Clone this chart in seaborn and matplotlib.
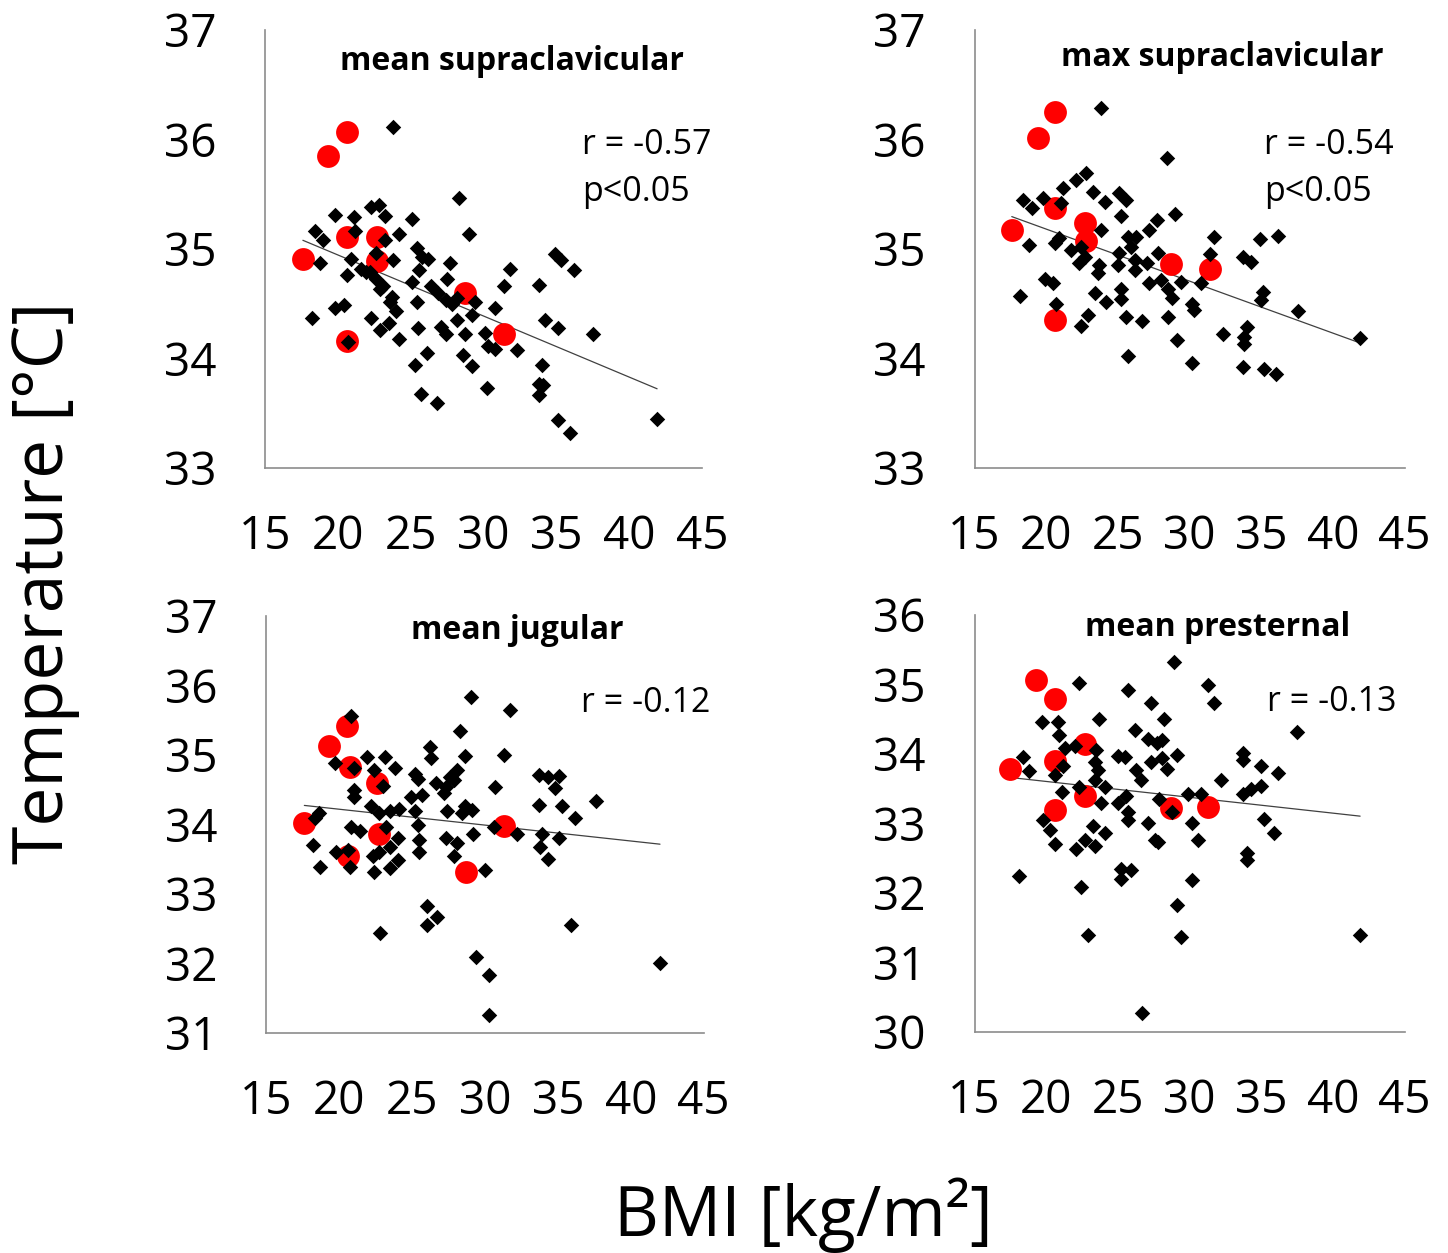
import numpy as np
import matplotlib
matplotlib.use("Agg")
import matplotlib.pyplot as plt
import seaborn as sns

# Values (BMI, temperature in °C)

# mean supraclavicular
sup_mean_red = [(20.6, 36.07), (19.35, 35.85), (20.6, 35.11), (22.7, 35.11), (17.6, 34.91),
                (22.7, 34.89), (28.7, 34.60), (31.4, 34.22), (20.6, 34.16)]
sup_mean_black = [(23.8, 36.11), (28.3, 35.47), (29.0, 35.14), (19.8, 35.31), (21.1, 35.29),
                  (22.3, 35.38), (22.8, 35.40), (23.2, 35.30), (25.1, 35.27), (18.4, 35.16),
                  (19.0, 35.08), (21.2, 35.16), (24.2, 35.14), (23.2, 35.08), (18.8, 34.87),
                  (20.9, 34.91), (20.6, 34.76), (21.6, 34.82), (22.6, 34.96), (22.2, 34.79),
                  (22.6, 34.73), (23.8, 34.90), (25.1, 34.70), (25.4, 35.01), (25.8, 34.93),
                  (26.2, 34.91), (25.6, 34.81), (27.7, 34.87), (27.5, 34.73), (26.4, 34.66),
                  (26.9, 34.60), (27.4, 34.53), (27.8, 34.50), (28.2, 34.55), (29.4, 34.52),
                  (30.8, 34.46), (29.2, 34.40), (31.4, 34.66), (31.8, 34.82), (33.8, 34.67),
                  (34.9, 34.95), (35.3, 34.90), (36.2, 34.81), (18.2, 34.37), (19.8, 34.46),
                  (20.4, 34.49), (22.3, 34.37), (22.9, 34.26), (23.5, 34.32), (24.0, 34.43),
                  (24.2, 34.18), (23.7, 34.56), (22.9, 34.63), (25.5, 34.28), (25.4, 34.52),
                  (27.1, 34.29), (28.2, 34.35), (28.7, 34.22), (27.4, 34.22), (30.1, 34.23),
                  (30.3, 34.11), (30.8, 34.09), (32.3, 34.08), (28.6, 34.03), (29.2, 33.93),
                  (25.3, 33.94), (26.1, 34.05), (30.2, 33.73), (34.0, 33.94), (33.8, 33.77),
                  (34.1, 33.76), (33.8, 33.67), (25.7, 33.68), (26.8, 33.59), (34.2, 34.35),
                  (35.1, 34.28), (37.5, 34.22), (35.1, 33.44), (35.9, 33.32), (41.9, 33.45),
                  (23.1, 34.66), (23.6, 34.52), (21.9, 34.79), (20.7, 34.15)]

# max supraclavicular
sup_max_red = [(20.6, 36.25), (19.4, 36.01), (20.6, 35.37), (17.6, 35.17), (22.7, 35.24),
               (22.8, 35.07), (28.7, 34.86), (31.4, 34.82), (20.6, 34.35)]
sup_max_black = [(23.8, 36.29), (28.4, 35.83), (18.4, 35.45), (19.0, 35.37), (19.8, 35.47),
                 (21.2, 35.56), (21.0, 35.42), (22.1, 35.63), (22.8, 35.69), (23.3, 35.52),
                 (24.1, 35.43), (25.1, 35.51), (25.6, 35.45), (25.2, 35.30), (29.0, 35.32),
                 (27.7, 35.26), (27.2, 35.17), (25.7, 35.11), (26.3, 35.11), (23.8, 35.17),
                 (20.9, 35.10), (18.8, 35.04), (20.6, 35.05), (21.7, 34.99), (22.4, 35.02),
                 (22.7, 34.93), (22.3, 34.87), (23.7, 34.85), (23.6, 34.78), (25.1, 34.96),
                 (26.2, 34.90), (26.2, 34.81), (27.0, 34.87), (27.8, 34.96), (27.2, 34.69),
                 (28.0, 34.72), (28.5, 34.63), (29.4, 34.70), (30.8, 34.69), (31.4, 34.95),
                 (31.7, 35.11), (34.9, 35.09), (36.2, 35.12), (33.7, 34.93), (34.3, 34.88),
                 (35.1, 34.61), (35.0, 34.53), (37.6, 34.43), (41.9, 34.19), (19.9, 34.73),
                 (20.5, 34.69), (18.2, 34.57), (20.7, 34.50), (23.4, 34.60), (24.2, 34.52),
                 (25.2, 34.63), (25.2, 34.54), (25.6, 34.38), (26.7, 34.34), (22.9, 34.40),
                 (22.4, 34.30), (28.5, 34.38), (28.8, 34.55), (30.2, 34.50), (30.3, 34.44),
                 (29.1, 34.17), (32.3, 34.22), (34.0, 34.29), (33.8, 34.20), (33.8, 34.13),
                 (25.7, 34.02), (30.2, 33.96), (33.7, 33.92), (35.2, 33.90), (36.0, 33.86),
                 (25.0, 34.85), (25.9, 35.02)]

# mean jugular
jug_mean_red = [(20.5, 35.42), (19.3, 35.13), (20.7, 34.82), (22.6, 34.60), (17.6, 34.02),
                (22.7, 33.87), (20.6, 33.54), (28.7, 33.31), (31.3, 33.98)]
jug_mean_black = [(29.0, 35.83), (31.7, 35.64), (28.3, 35.35), (26.2, 35.12), (26.3, 34.95),
                  (28.6, 34.99), (31.3, 35.00), (20.8, 35.56), (19.7, 34.88), (21.9, 34.97),
                  (23.1, 34.97), (23.8, 34.81), (21.0, 34.81), (22.4, 34.78), (25.2, 34.73),
                  (25.4, 34.66), (26.6, 34.59), (27.3, 34.54), (27.6, 34.69), (28.1, 34.78),
                  (27.9, 34.64), (25.7, 34.42), (24.9, 34.40), (27.2, 34.45), (21.0, 34.50),
                  (21.0, 34.40), (23.0, 34.55), (30.7, 34.54), (33.7, 34.71), (34.3, 34.69),
                  (35.1, 34.70), (34.8, 34.52), (33.7, 34.28), (35.3, 34.26), (37.6, 34.34),
                  (36.2, 34.10), (18.6, 34.16), (18.3, 34.09), (22.2, 34.26), (22.7, 34.16),
                  (23.5, 34.19), (24.1, 34.22), (25.2, 34.19), (25.4, 33.99), (27.4, 34.19),
                  (28.6, 34.26), (29.1, 34.21), (28.4, 34.16), (30.6, 33.96), (32.2, 33.86),
                  (33.9, 33.87), (35.1, 33.80), (33.8, 33.68), (34.3, 33.50), (20.8, 33.97),
                  (21.4, 33.90), (23.2, 33.97), (24.0, 33.80), (23.5, 33.68), (27.3, 33.80),
                  (28.1, 33.74), (29.2, 33.86), (25.5, 33.77), (25.5, 33.61), (27.9, 33.54),
                  (18.2, 33.71), (19.8, 33.61), (20.6, 33.63), (18.7, 33.39), (20.7, 33.39),
                  (22.3, 33.54), (22.7, 33.61), (22.4, 33.31), (23.5, 33.37), (24.0, 33.49),
                  (30.0, 33.34), (26.0, 32.82), (26.7, 32.67), (26.0, 32.55), (22.8, 32.44),
                  (35.9, 32.55), (29.4, 32.10), (30.3, 31.83), (42.0, 32.00), (30.3, 31.26)]

# mean presternal
pre_mean_red = [(19.3, 35.07), (20.6, 34.79), (22.7, 34.15), (20.6, 33.90), (17.5, 33.79),
                (22.7, 33.40), (20.6, 33.19), (28.7, 33.22), (31.3, 33.24)]
pre_mean_black = [(28.9, 35.33), (22.3, 35.02), (25.7, 34.92), (31.3, 34.99), (31.7, 34.73),
                  (27.3, 34.74), (28.2, 34.51), (23.7, 34.50), (19.7, 34.46), (20.8, 34.46),
                  (20.9, 34.27), (26.2, 34.34), (37.5, 34.32), (27.1, 34.21), (27.7, 34.16),
                  (28.1, 34.20), (22.0, 34.11), (21.3, 34.08), (23.5, 34.06), (25.0, 33.97),
                  (25.5, 33.95), (27.3, 33.89), (28.1, 33.94), (29.1, 33.99), (28.4, 33.79),
                  (18.4, 33.95), (18.8, 33.75), (20.6, 33.70), (21.2, 33.83), (23.4, 33.88),
                  (23.6, 33.77), (26.3, 33.77), (26.6, 33.63), (32.2, 33.62), (33.7, 34.01),
                  (33.7, 33.92), (35.0, 33.83), (36.2, 33.73), (22.3, 33.53), (23.4, 33.63),
                  (24.1, 33.53), (23.8, 33.29), (21.1, 33.46), (25.0, 33.29), (25.6, 33.39),
                  (25.7, 33.17), (27.9, 33.35), (29.9, 33.42), (30.8, 33.43), (33.7, 33.42),
                  (34.3, 33.49), (35.0, 33.54), (28.8, 33.17), (30.2, 33.01), (27.1, 33.01),
                  (27.6, 32.76), (27.8, 32.74), (19.8, 33.05), (20.3, 32.90), (20.6, 32.70),
                  (22.1, 32.63), (22.7, 32.76), (23.3, 32.96), (24.1, 32.87), (23.4, 32.67),
                  (30.6, 32.76), (35.2, 33.07), (35.9, 32.87), (34.0, 32.57), (34.0, 32.47),
                  (18.1, 32.24), (22.4, 32.08), (25.2, 32.35), (25.9, 32.33), (25.2, 32.20),
                  (30.2, 32.19), (29.1, 31.83), (22.9, 31.40), (29.4, 31.37), (41.9, 31.40),
                  (26.7, 30.28), (25.7, 33.05)]

titles = ["mean supraclavicular", "max supraclavicular", "mean jugular", "mean presternal"]
stats = [["r = -0.57", "p<0.05"], ["r = -0.54", "p<0.05"], ["r = -0.12"], ["r = -0.13"]]
x_ticks = [15, 20, 25, 30, 35, 40, 45]
y_ticks = [[33, 34, 35, 36, 37], [33, 34, 35, 36, 37],
           [31, 32, 33, 34, 35, 36, 37], [30, 31, 32, 33, 34, 35, 36]]

sns.set_style("white")
plt.rcParams["font.family"] = ["Open Sans", "DejaVu Sans"]
plt.rcParams["text.color"] = "black"

fig = plt.figure(figsize=(14.48, 12.53), dpi=100)

# axes boxes in figure fractions
boxes = [[0.183, 0.6265, 0.302, 0.3496],
         [0.673, 0.6265, 0.297, 0.3496],
         [0.184, 0.1756, 0.302, 0.3328],
         [0.673, 0.1764, 0.297, 0.3328]]
title_pos = [(0.565, 0.927), (0.577, 0.938), (0.573, 0.966), (0.565, 0.969)]
stat_pos = [(0.725, 0.737), (0.674, 0.737), (0.719, 0.791), (0.679, 0.791)]

panels = [(sup_mean_red, sup_mean_black), (sup_max_red, sup_max_black),
          (jug_mean_red, jug_mean_black), (pre_mean_red, pre_mean_black)]

spine_col = "#8c8c8c"

for i, (red, black) in enumerate(panels):
    ax = fig.add_axes(boxes[i])
    red = np.array(red)
    black = np.array(black)
    allpts = np.vstack([red, black])

    sns.regplot(x=allpts[:, 0], y=allpts[:, 1], ax=ax, scatter=False, ci=None,
                line_kws=dict(color="#404040", lw=0.9))
    sns.scatterplot(x=red[:, 0], y=red[:, 1], ax=ax, color="#ff0000", s=270,
                    marker="o", linewidth=0, zorder=3)
    sns.scatterplot(x=black[:, 0], y=black[:, 1], ax=ax, color="black", s=62,
                    marker="D", linewidth=0, zorder=4)

    ax.set_xlim(15, 45)
    ax.set_ylim(y_ticks[i][0], y_ticks[i][-1])
    ax.set_xticks(x_ticks)
    ax.set_yticks(y_ticks[i])
    sns.despine(ax=ax)
    for s in ["left", "bottom"]:
        ax.spines[s].set_color(spine_col)
        ax.spines[s].set_linewidth(1.2)
    ax.tick_params(axis="both", direction="out", length=11, width=1.2, color=spine_col,
                   labelsize=33, labelcolor="black")
    ax.tick_params(axis="x", pad=22)
    ax.tick_params(axis="y", pad=24)
    ax.set_xlabel("")
    ax.set_ylabel("")

    tx, ty = title_pos[i]
    ax.text(tx, ty, titles[i], transform=ax.transAxes, ha="center", va="center",
            fontsize=23, fontweight="bold", color="black")
    sx, sy = stat_pos[i]
    for j, line in enumerate(stats[i]):
        ax.text(sx, sy - j * 0.107, line, transform=ax.transAxes, ha="left",
                va="center", fontsize=24.5, color="black")

fig.text(0.031, 0.535, "Temperature [°C]", rotation=90, ha="center", va="center",
         fontsize=50, color="black")
fig.text(0.555, 0.030, "BMI [kg/m²]", ha="center", va="center", fontsize=50,
         color="black")

plt.savefig("out.png", dpi=100)
plt.close()
